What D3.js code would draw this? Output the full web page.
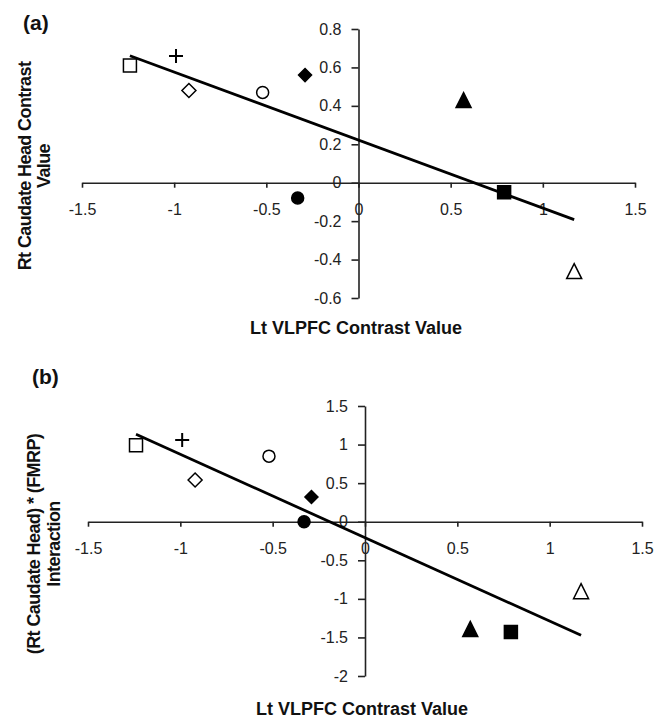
<!DOCTYPE html>
<html>
<head>
<meta charset="utf-8">
<title>VLPFC vs caudate</title>
<script src="https://d3js.org/d3.v7.min.js"></script>
<style>
body { margin: 0; background: #fff; }
svg { display: block; }
.tick text { font-family: "Liberation Sans", Arial, sans-serif; font-size: 16px; fill: #222; }
.domain, .tick line { stroke: #222; stroke-width: 1.6px; }
.ttl { font-family: "Liberation Sans", Arial, sans-serif; font-weight: bold; font-size: 18px; fill: #111; }
.ytl { letter-spacing: -0.6px; }
.lbl { font-family: "Liberation Sans", Arial, sans-serif; font-weight: bold; font-size: 21px; fill: #111; }
</style>
</head>
<body>
<svg width="665" height="718"></svg>
<script>

// one marker per subject, same order in every array
var markers = ["openSquare", "plus", "openDiamond", "openCircle", "filledDiamond",
               "filledCircle", "filledTriangle", "filledSquare", "openTriangle"];
var vlpfc   = [-1.24, -0.99, -0.92, -0.52, -0.29, -0.33, 0.57, 0.79, 1.17];
var caudate = [0.61, 0.66, 0.48, 0.47, 0.56, -0.08, 0.43, -0.05, -0.46];
var interaction = [0.99, 1.06, 0.54, 0.85, 0.32, 0.0, -1.39, -1.43, -0.90];

var xTicks  = [-1.5, -1, -0.5, 0, 0.5, 1, 1.5];
var yTicksA = [-0.6, -0.4, -0.2, 0, 0.2, 0.4, 0.6, 0.8];
var yTicksB = [-2, -1.5, -1, -0.5, 0, 0.5, 1, 1.5];

var svg = d3.select("svg");

// marker shapes, s = size in px
function shapePath(type, s) {
  var h = s / 2;
  if (type.indexOf("Square") > 0) return "M" + (-h) + "," + (-h) + "h" + s + "v" + s + "h" + (-s) + "Z";
  if (type.indexOf("Diamond") > 0) return "M0," + (-h) + "L" + h + ",0L0," + h + "L" + (-h) + ",0Z";
  if (type.indexOf("Triangle") > 0) return "M0," + (-h) + "L" + h + "," + h + "L" + (-h) + "," + h + "Z";
  if (type.indexOf("Circle") > 0) return "M" + h + ",0A" + h + "," + h + " 0 1 1 " + (-h) + ",0A" + h + "," + h + " 0 1 1 " + h + ",0";
  return "M" + (-h) + ",0H" + h + "M0," + (-h) + "V" + h;   // plus
}
var sizes = { openSquare: 13, plus: 14, openDiamond: 14, openCircle: 12, filledDiamond: 13,
              filledCircle: 12, filledTriangle: 15, filledSquare: 13, openTriangle: 15 };

// least squares trendline, like the spreadsheet one
function fit(xs, ys) {
  var mx = d3.mean(xs), my = d3.mean(ys);
  var sxy = d3.sum(xs, function(x, i) { return (x - mx) * (ys[i] - my); });
  var sxx = d3.sum(xs, function(x) { return (x - mx) * (x - mx); });
  var b = sxy / sxx;
  return { slope: b, intercept: my - b * mx };
}

function panel(opt) {
  var x = d3.scaleLinear().domain([-1.5, 1.5]).range(opt.xr);
  var y = d3.scaleLinear().domain(d3.extent(opt.yTicks)).range(opt.yr);
  var fmt = function(d) { return String(d); };

  svg.append("g")
    .attr("transform", "translate(0," + y(0) + ")")
    .call(d3.axisBottom(x).tickValues(xTicks).tickFormat(fmt).tickSizeInner(5).tickSizeOuter(0).tickPadding(16));

  svg.append("g")
    .attr("transform", "translate(" + x(0) + ",0)")
    .call(d3.axisLeft(y).tickValues(opt.yTicks).tickFormat(fmt).tickSizeInner(7).tickSizeOuter(0).tickPadding(10));

  // trendline over the data range
  var f = fit(vlpfc, opt.ys);
  var ends = d3.extent(vlpfc);
  svg.append("line")
    .attr("x1", x(ends[0])).attr("y1", y(f.intercept + f.slope * ends[0]))
    .attr("x2", x(ends[1])).attr("y2", y(f.intercept + f.slope * ends[1]))
    .attr("stroke", "#000").attr("stroke-width", 2.8);

  svg.selectAll(null)
    .data(markers)
    .enter()
    .append("path")
    .attr("transform", function(d, i) { return "translate(" + x(vlpfc[i]) + "," + y(opt.ys[i]) + ")"; })
    .attr("d", function(d) { return shapePath(d, sizes[d]); })
    .attr("fill", function(d) { return d.indexOf("filled") === 0 ? "#000" : (d === "plus" ? "none" : "#fff"); })
    .attr("stroke", "#000")
    .attr("stroke-width", function(d) { return d === "plus" ? 2 : 1.5; });

  svg.append("text").attr("class", "lbl").attr("x", opt.lbl[0]).attr("y", opt.lbl[1]).text(opt.label);

  svg.append("text").attr("class", "ttl").attr("text-anchor", "middle")
    .attr("x", opt.xt[0]).attr("y", opt.xt[1]).text("Lt VLPFC Contrast Value");

  opt.yTitle.forEach(function(t, i) {
    svg.append("text").attr("class", "ttl ytl").attr("text-anchor", "middle")
      .attr("transform", "translate(" + opt.yt[i] + "," + opt.ytc + ") rotate(-90)")
      .text(t);
  });
}

panel({
  label: "(a)", lbl: [23, 30],
  ys: caudate, yTicks: yTicksA,
  xr: [82, 635], yr: [298, 29],
  xt: [356, 334],
  yTitle: ["Rt Caudate Head Contrast", "Value"], yt: [31, 50], ytc: 166
});

panel({
  label: "(b)", lbl: [32, 384],
  ys: interaction, yTicks: yTicksB,
  xr: [88, 642], yr: [676, 406],
  xt: [362, 715],
  yTitle: ["(Rt Caudate Head) * (FMRP)", "Interaction"], yt: [40, 60], ytc: 544
});

</script>
</body>
</html>
